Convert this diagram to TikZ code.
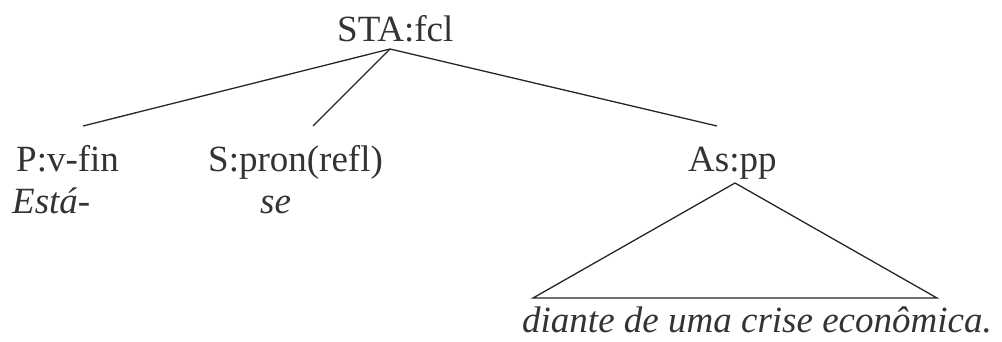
\documentclass[tikz,border=0pt]{standalone}
\usepackage{fontspec}
\setmainfont{Liberation Serif}
\usepackage{tikz}
\tikzstyle{cat}=[inner sep=0pt,anchor=base west,text=black!80,font=\fontsize{37}{44}\selectfont]
\tikzstyle{word}=[cat,font=\fontsize{37}{44}\selectfont\itshape]
\tikzstyle{branch}=[line width=1.3pt,black!85]
\newcommand{\catrow}{172}

\begin{document}
\begin{tikzpicture}[x=1pt,y=-1pt]
  \useasboundingbox (0,0) rectangle (1002,342);

  \node[cat] (sta) at (337,42) {STA:fcl};
  \node[cat] (p)  at (16,\catrow)  {P:v-fin};
  \node[cat] (s)  at (208,\catrow) {S:pron(refl)};
  \node[cat] (as) at (688,\catrow) {As:pp};

  \node[word] (esta) at (12,213)  {Está-};
  \node[word] (se)   at (260,213) {se};
  \node[word] (pp)   at (522,332) {diante de uma crise econômica.};

  \coordinate (top) at (390,49);
  \coordinate (p_top) at (83,126);
  \coordinate (s_top) at (313,126);
  \coordinate (as_top) at (717,126);
  \coordinate (tri_top) at (735,183);
  \coordinate (tri_l) at (533,298);
  \coordinate (tri_r) at (937,298);

  \draw [branch] (top) -- (p_top);
  \draw [branch] (top) -- (s_top);
  \draw [branch] (top) -- (as_top);
  \draw [branch] (tri_top) -- (tri_l) -- (tri_r) -- cycle;
\end{tikzpicture}
\end{document}
